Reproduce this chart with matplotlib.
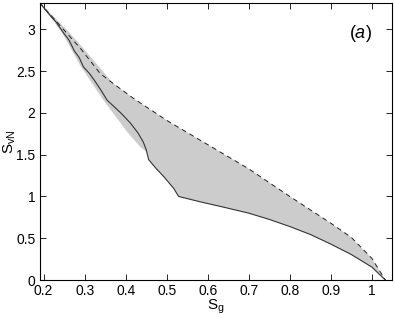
import numpy as np
import matplotlib
matplotlib.use("Agg")
import matplotlib.pyplot as plt

plt.rcParams['font.family'] = ['Liberation Sans', 'DejaVu Sans']
plt.rcParams['mathtext.fontset'] = 'custom'
plt.rcParams['mathtext.rm'] = 'Liberation Sans'
plt.rcParams['mathtext.it'] = 'Liberation Sans:italic'

# Upper (dashed) bound
upper_x = [0.190, 0.250, 0.290, 0.338, 0.370, 0.420, 0.500, 0.600, 0.700, 0.800, 0.900, 0.950, 1.000, 1.033]
upper_y = [3.320, 2.990, 2.770, 2.470, 2.350, 2.170, 1.910, 1.620, 1.330, 1.000, 0.680, 0.510, 0.260, 0.000]

# Lower (solid) curve
lower_x = [0.190, 0.205, 0.215, 0.230, 0.248, 0.262, 0.275, 0.287, 0.297, 0.312, 0.325, 0.340, 0.355,
           0.375, 0.392, 0.412, 0.430, 0.443, 0.450, 0.456, 0.475, 0.493, 0.517, 0.529,
           0.582, 0.640, 0.700, 0.750, 0.800, 0.850, 0.900, 0.950, 1.000, 1.033]
lower_y = [3.320, 3.230, 3.170, 3.090, 2.960, 2.870, 2.740, 2.660, 2.550, 2.470, 2.380, 2.270, 2.150,
           2.060, 1.980, 1.875, 1.760, 1.650, 1.560, 1.440, 1.330, 1.236, 1.097, 1.000,
           0.935, 0.870, 0.800, 0.725, 0.640, 0.545, 0.430, 0.305, 0.155, 0.000]

# Shaded region boundaries
fill_top_x = [0.190, 0.220, 0.260, 0.300, 0.330, 0.370, 0.420, 0.500, 0.600, 0.700, 0.800, 0.900, 0.950, 1.000, 1.033]
fill_top_y = [3.320, 3.175, 2.975, 2.755, 2.580, 2.350, 2.170, 1.910, 1.620, 1.330, 1.000, 0.680, 0.510, 0.260, 0.000]
fill_bot_x = [0.190, 0.245, 0.290, 0.346, 0.404, 0.436, 0.452, 0.456, 0.475, 0.493, 0.517, 0.529,
              0.582, 0.640, 0.700, 0.750, 0.800, 0.850, 0.900, 0.950, 1.000, 1.033]
fill_bot_y = [3.320, 2.960, 2.560, 2.150, 1.770, 1.590, 1.530, 1.440, 1.330, 1.236, 1.097, 1.000,
              0.935, 0.870, 0.800, 0.725, 0.640, 0.545, 0.430, 0.305, 0.155, 0.000]

xticks = [0.2, 0.3, 0.4, 0.5, 0.6, 0.7, 0.8, 0.9, 1.0]
xticklabels = ['0.2', '0.3', '0.4', '0.5', '0.6', '0.7', '0.8', '0.9', '1']
yticks = [0, 0.5, 1, 1.5, 2, 2.5, 3]
yticklabels = ['0', '0.5', '1', '1.5', '2', '2.5', '3']

fig = plt.figure(figsize=(3.95, 3.18), dpi=100)
ax = fig.add_axes([39.5/395, 38/318, 352/395, 277.3/318])

poly_x = np.concatenate([fill_top_x, fill_bot_x[::-1]])
poly_y = np.concatenate([fill_top_y, fill_bot_y[::-1]])
ax.fill(poly_x, poly_y, color='#cccccc', lw=0)

ax.plot(upper_x, upper_y, color='#222222', lw=0.7, ls=(0, (5, 4)))
ax.plot(lower_x, lower_y, color='#333333', lw=0.8)

ax.set_xlim(0.19, 1.048)
ax.set_ylim(0, 3.318)
ax.set_xticks(xticks)
ax.set_xticklabels(xticklabels)
ax.set_yticks(yticks)
ax.set_yticklabels(yticklabels)
ax.tick_params(direction='in', length=4, width=0.6, top=True, right=True, labelsize=10, pad=3)
for s in ax.spines.values():
    s.set_linewidth(0.8)

ax.set_xlabel(r'$\mathrm{S_g}$', fontsize=11, labelpad=0)
ax.set_ylabel(r'$\mathrm{S_{vN}}$', fontsize=11)
ax.yaxis.set_label_coords(-0.062, 0.5)

ax.text(0.972, 2.955, r'($\mathit{a}$)', fontsize=13, ha='center', va='center')

fig.savefig('out.png', dpi=100)
